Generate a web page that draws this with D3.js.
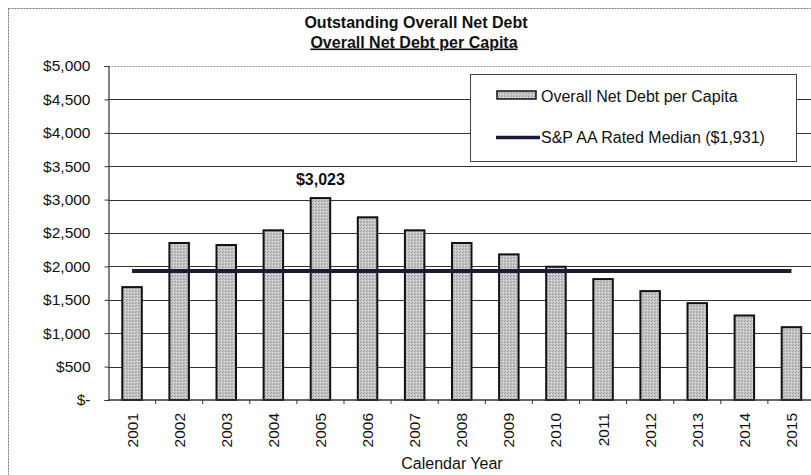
<!DOCTYPE html>
<html>
<head>
<meta charset="utf-8">
<script src="https://cdn.jsdelivr.net/npm/d3@7/dist/d3.min.js"></script>
<style>
  html, body { margin: 0; padding: 0; background: #fff; }
  svg { display: block; font-family: "Liberation Sans", Arial, sans-serif; }
</style>
</head>
<body>
<svg id="chart" width="811" height="475"></svg>
<script>
// Overall net debt per capita by calendar year
const years = ["2001","2002","2003","2004","2005","2006","2007","2008","2009","2010","2011","2012","2013","2014","2015"];
const debtPerCapita = [1690, 2350, 2320, 2540, 3023, 2735, 2540, 2350, 2180, 1995, 1810, 1630, 1450, 1265, 1090];
const medianValue = 1931;
const yTicks = [0, 500, 1000, 1500, 2000, 2500, 3000, 3500, 4000, 4500, 5000];
const titleLines = ["Outstanding Overall Net Debt", "Overall Net Debt per Capita"];
const legendLabels = ["Overall Net Debt per Capita", "S&P AA Rated Median ($1,931)"];
const peakLabel = "$3,023";
const xTitle = "Calendar Year";

const svg = d3.select("#chart");
const plot = { left: 108.5, top: 66, right: 815, bottom: 400 };

const x = d3.scaleBand()
  .domain(years)
  .range([plot.left, plot.right])
  .paddingInner(0.586)
  .paddingOuter(0.293);
const step = x.step();

const y = d3.scaleLinear().domain([0, 5000]).range([plot.bottom, plot.top]);

// stippled grey fill for the bars
const defs = svg.append("defs");
const pat = defs.append("pattern")
  .attr("id", "stipple").attr("width", 3).attr("height", 3)
  .attr("patternUnits", "userSpaceOnUse");
pat.append("rect").attr("width", 3).attr("height", 3).attr("fill", "#c4c4c4");
pat.append("rect").attr("x", 0).attr("y", 0).attr("width", 1).attr("height", 1).attr("fill", "#9a9a9a");
pat.append("rect").attr("x", 2).attr("y", 1).attr("width", 1).attr("height", 1).attr("fill", "#e2e2e2");
pat.append("rect").attr("x", 1).attr("y", 2).attr("width", 1).attr("height", 1).attr("fill", "#a8a8a8");

// outer chart frame
svg.append("rect")
  .attr("x", 8.5).attr("y", 8.5).attr("width", 830).attr("height", 500)
  .attr("fill", "none").attr("stroke", "#777").attr("stroke-width", 1)
  .attr("stroke-dasharray", "2,1");

// titles
svg.append("text").attr("x", 416).attr("y", 28)
  .attr("text-anchor", "middle").attr("font-weight", "bold").attr("font-size", 16)
  .attr("fill", "#111").text(titleLines[0]);
svg.append("text").attr("x", 414).attr("y", 47.5)
  .attr("text-anchor", "middle").attr("font-weight", "bold").attr("font-size", 16)
  .attr("text-decoration", "underline")
  .attr("fill", "#111").text(titleLines[1]);

// horizontal gridlines
svg.append("g").selectAll("line")
  .data(yTicks.filter(d => d > 0))
  .join("line")
  .attr("x1", plot.left).attr("x2", 811)
  .attr("y1", d => Math.round(y(d)) + 0.5).attr("y2", d => Math.round(y(d)) + 0.5)
  .attr("stroke", d => d === 5000 ? "#9a9a9a" : "#333")
  .attr("stroke-width", 1.2)
  .attr("stroke-dasharray", d => d === 5000 ? "2,1" : null);

// y axis
const yAxis = d3.axisLeft(y)
  .tickValues(yTicks)
  .tickSize(4)
  .tickPadding(14)
  .tickFormat(d => d === 0 ? "$-" : "$" + d3.format(",")(d));
const gy = svg.append("g").attr("transform", `translate(${plot.left},0)`).call(yAxis);
gy.select(".domain").attr("stroke", "#333").attr("stroke-width", 1.2);
gy.selectAll(".tick line").attr("stroke", "#333");
gy.selectAll(".tick text").attr("font-size", 15.5).attr("fill", "#111")
  .attr("font-family", "Liberation Sans, Arial, sans-serif");

// bars
svg.append("g").selectAll("rect")
  .data(years.map((yr, i) => ({ yr, v: debtPerCapita[i] })))
  .join("rect")
  .attr("x", d => x(d.yr))
  .attr("y", d => y(d.v))
  .attr("width", x.bandwidth())
  .attr("height", d => y(0) - y(d.v))
  .attr("fill", "url(#stipple)")
  .attr("stroke", "#111").attr("stroke-width", 2);

// x axis with ticks between categories
const xLine = svg.append("g");
xLine.append("line")
  .attr("x1", plot.left).attr("x2", 811)
  .attr("y1", plot.bottom).attr("y2", plot.bottom)
  .attr("stroke", "#333").attr("stroke-width", 1.5);
xLine.selectAll(".sep")
  .data(years.slice(1))
  .join("line")
  .attr("class", "sep")
  .attr("x1", d => x(d) - (step - x.bandwidth()) / 2)
  .attr("x2", d => x(d) - (step - x.bandwidth()) / 2)
  .attr("y1", plot.bottom).attr("y2", plot.bottom + 4)
  .attr("stroke", "#333");

// rotated year labels
svg.append("g").selectAll("text")
  .data(years)
  .join("text")
  .attr("transform", d => `translate(${x(d) + x.bandwidth() / 2 + 5.5},${plot.bottom + 13}) rotate(-90)`)
  .attr("text-anchor", "end")
  .attr("font-size", 15.5).attr("fill", "#111")
  .text(d => d);

// x axis title
svg.append("text").attr("x", 452).attr("y", 469)
  .attr("text-anchor", "middle").attr("font-size", 16).attr("fill", "#111")
  .text(xTitle);

// median reference line
svg.append("line")
  .attr("x1", x(years[0]) + x.bandwidth() / 2)
  .attr("x2", x(years[years.length - 1]) + x.bandwidth() / 2)
  .attr("y1", y(medianValue)).attr("y2", y(medianValue))
  .attr("stroke", "#1b1b38").attr("stroke-width", 4);

// peak value label
const peakIdx = debtPerCapita.indexOf(3023);
svg.append("text")
  .attr("x", x(years[peakIdx]) + x.bandwidth() / 2)
  .attr("y", y(debtPerCapita[peakIdx]) - 13)
  .attr("text-anchor", "middle").attr("font-weight", "bold").attr("font-size", 16)
  .attr("fill", "#111").text(peakLabel);

// legend
const lg = svg.append("g");
lg.append("rect")
  .attr("x", 470.5).attr("y", 74.5).attr("width", 326).attr("height", 87)
  .attr("fill", "#fff").attr("stroke", "#444").attr("stroke-width", 1);
lg.append("rect")
  .attr("x", 497).attr("y", 91).attr("width", 39).attr("height", 8)
  .attr("fill", "url(#stipple)").attr("stroke", "#111").attr("stroke-width", 1.5);
lg.append("text").attr("x", 541).attr("y", 102)
  .attr("font-size", 16).attr("fill", "#111").text(legendLabels[0]);
lg.append("line")
  .attr("x1", 496).attr("x2", 540).attr("y1", 137.5).attr("y2", 137.5)
  .attr("stroke", "#1b1b38").attr("stroke-width", 3.5);
lg.append("text").attr("x", 541).attr("y", 143)
  .attr("font-size", 16).attr("fill", "#111").text(legendLabels[1]);
</script>
</body>
</html>
